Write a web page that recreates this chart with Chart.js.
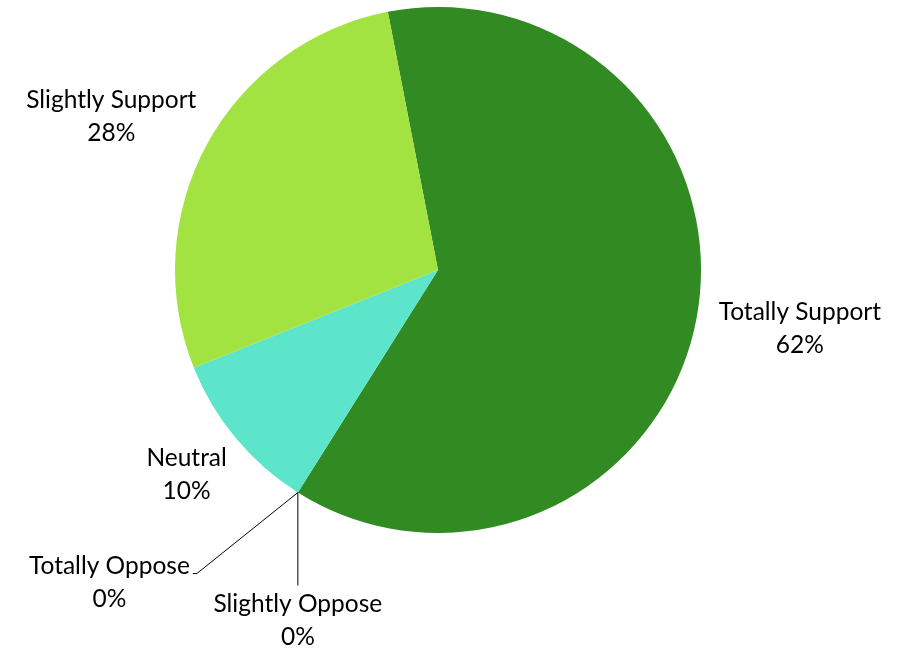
<!DOCTYPE html>
<html>
<head>
<meta charset="utf-8">
<script src="https://cdn.jsdelivr.net/npm/chart.js@4"></script>
<style>
  html, body { margin: 0; padding: 0; background: #fff; }
  #wrap { width: 901px; height: 648px; }
</style>
</head>
<body>
<div id="wrap"><canvas id="pie-chart" width="901" height="648"></canvas></div>
<script>
const categories = ['Totally Support', 'Slightly Oppose', 'Totally Oppose', 'Neutral', 'Slightly Support'];
const shares = [62, 0, 0, 10, 28];
const sliceColors = ['#318a22', '#318a22', '#318a22', '#5ce5cb', '#a2e341'];

const labelFont = '24.5px Lato, "Open Sans", sans-serif';
const lineGap = 33;

// leader lines for empty slices: end point offset from the slice edge, then text anchor
const leaders = {
    1: { ex: 0, ey: 93, tx: 0, ty: 112, side: 'below' },
    2: { ex: -101, ey: 81, hx: -4, tx: -108, ty: 74, side: 'left' }
};

const drawLines = (ctx, lines, x, y) => {
    ctx.textAlign = 'center';
    lines.forEach((t, i) => ctx.fillText(t, x, y + i * lineGap));
};

const labelPlugin = {
    id: 'pieLabels',
    afterDatasetsDraw(chart) {
        const ctx = chart.ctx;
        const meta = chart.getDatasetMeta(0);
        ctx.save();
        ctx.font = labelFont;
        ctx.fillStyle = '#000';
        ctx.textBaseline = 'middle';
        meta.data.forEach((arc, i) => {
            const p = arc.getProps(['x', 'y', 'startAngle', 'endAngle', 'outerRadius']);
            const mid = (p.startAngle + p.endAngle) / 2;
            const lines = [categories[i], shares[i] + '%'];
            const w = Math.max(...lines.map(t => ctx.measureText(t).width));
            const ex = p.x + Math.cos(mid) * p.outerRadius;
            const ey = p.y + Math.sin(mid) * p.outerRadius;
            const ld = leaders[i];
            if (ld) {
                ctx.strokeStyle = '#000';
                ctx.lineWidth = 1;
                ctx.beginPath();
                ctx.moveTo(ex, ey);
                ctx.lineTo(ex + ld.ex, ey + ld.ey);
                if (ld.hx) ctx.lineTo(ex + ld.ex + ld.hx, ey + ld.ey);
                ctx.stroke();
                const cx = ld.side === 'left' ? ex + ld.tx - w / 2 : ex + ld.tx;
                drawLines(ctx, lines, cx, ey + ld.ty);
                return;
            }
            const h = lineGap * 2;
            const gap = 24;
            const dx = Math.cos(mid), dy = Math.sin(mid);
            const cx = p.x + dx * (p.outerRadius + gap) + dx * w / 2;
            const cy = p.y + dy * (p.outerRadius + gap) + dy * h / 2;
            drawLines(ctx, lines, cx, cy - lineGap / 2);
        });
        ctx.restore();
    }
};

new Chart(document.getElementById('pie-chart').getContext('2d'), {
    type: 'pie',
    data: {
        labels: categories,
        datasets: [{
            data: shares,
            backgroundColor: sliceColors,
            borderWidth: 0
        }]
    },
    options: {
        responsive: false,
        animation: false,
        rotation: -11,
        layout: { padding: { left: 175, right: 200, top: 7, bottom: 115 } },
        plugins: {
            legend: { display: false },
            tooltip: { enabled: false }
        }
    },
    plugins: [labelPlugin]
});
</script>
</body>
</html>
